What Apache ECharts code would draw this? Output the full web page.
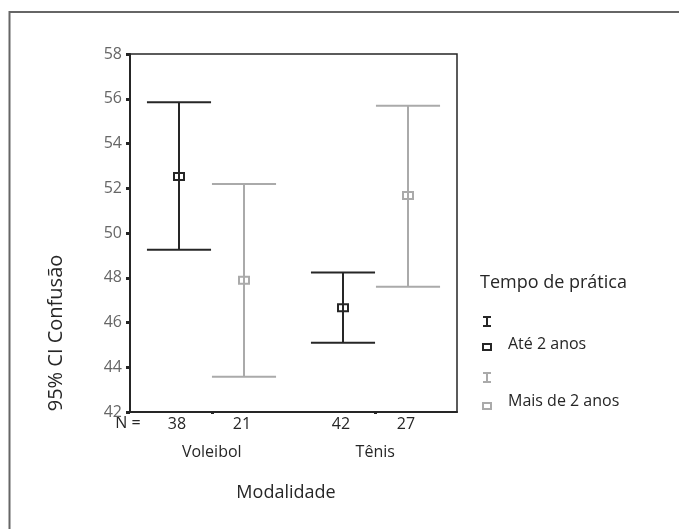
<!DOCTYPE html>
<html>
<head>
<meta charset="utf-8">
<script src="https://cdn.jsdelivr.net/npm/echarts@6/dist/echarts.min.js"></script>
<style>
html,body{margin:0;padding:0;background:#fff;}
#chart{width:679px;height:529px;}
</style>
</head>
<body>
<div id="chart"></div>
<script>
// ---- data ----
var categories = ['Voleibol', 'Tênis'];
var yTicks = [42, 44, 46, 48, 50, 52, 54, 56, 58];
var ateLow  = [49.25, 45.10];
var ateMean = [52.52, 46.66];
var ateHigh = [55.84, 48.23];
var ateN    = [38, 42];
var maisLow  = [43.58, 47.60];
var maisMean = [47.89, 51.68];
var maisHigh = [52.19, 55.69];
var maisN    = [21, 27];
var seriesNames = ['Até 2 anos', 'Mais de 2 anos'];
var legendTitle = 'Tempo de prática';
var xTitle = 'Modalidade';
var yTitle = '95% CI Confusão';

var FONT = '"Open Sans", "Noto Sans", sans-serif';
var BLACK = '#262626';
var GRAY = '#aaaaaa';

function buildData(low, mean, high, n) {
  return categories.map(function (c, i) { return [i, low[i], mean[i], high[i], n[i]]; });
}

function makeRender(offsetFrac, color) {
  return function (params, api) {
    var cat = api.value(0);
    var lo = api.value(1), mean = api.value(2), hi = api.value(3), n = api.value(4);
    var band = api.size([1, 0])[0];
    var pHi = api.coord([cat, hi]);
    var pLo = api.coord([cat, lo]);
    var pM = api.coord([cat, mean]);
    var base = api.coord([cat, yTicks[0]]);
    var x = Math.round(pHi[0] + band * offsetFrac);
    var half = band * 0.196;
    var st = { stroke: color, lineWidth: 2 };
    return {
      type: 'group',
      children: [
        { type: 'line', shape: { x1: x, y1: pHi[1], x2: x, y2: pLo[1] }, style: st },
        { type: 'line', shape: { x1: x - half, y1: pHi[1], x2: x + half, y2: pHi[1] }, style: st },
        { type: 'line', shape: { x1: x - half, y1: pLo[1], x2: x + half, y2: pLo[1] }, style: st },
        { type: 'rect', shape: { x: x - 5, y: pM[1] - 3.5, width: 10, height: 7 },
          style: { fill: 'none', stroke: color, lineWidth: 2 } },
        { type: 'text', x: x - 2, y: base[1] + 12,
          style: { text: String(n), fill: BLACK, font: '16px ' + FONT, align: 'center', verticalAlign: 'middle' } }
      ]
    };
  };
}

function legendIcon(cx, top, h, color) {
  return [
    { type: 'line', shape: { x1: cx, y1: top, x2: cx, y2: top + h }, style: { stroke: color, lineWidth: 2 } },
    { type: 'line', shape: { x1: cx - 4, y1: top, x2: cx + 4, y2: top }, style: { stroke: color, lineWidth: 2 } },
    { type: 'line', shape: { x1: cx - 4, y1: top + h, x2: cx + 4, y2: top + h }, style: { stroke: color, lineWidth: 2 } }
  ];
}

var chart = echarts.init(document.getElementById('chart'), null, { renderer: 'canvas' });

var graphics = [
  { type: 'rect', shape: { x: 9.5, y: 12, width: 800, height: 700 }, style: { fill: 'none', stroke: '#666', lineWidth: 2 }, silent: true },
  { type: 'text', x: 56, y: 333, rotation: Math.PI / 2,
    style: { text: yTitle, fill: BLACK, font: '20px ' + FONT, align: 'center', verticalAlign: 'middle' } },
  { type: 'text', x: 128, y: 423.5,
    style: { text: 'N =', fill: BLACK, font: '16px ' + FONT, align: 'center', verticalAlign: 'middle' } },
  { type: 'text', x: 480, y: 283,
    style: { text: legendTitle, fill: BLACK, font: '18px ' + FONT, align: 'left', verticalAlign: 'middle' } },
  { type: 'rect', shape: { x: 483, y: 344, width: 8, height: 6 }, style: { fill: 'none', stroke: BLACK, lineWidth: 2 } },
  { type: 'text', x: 508, y: 344,
    style: { text: seriesNames[0], fill: BLACK, font: '16px ' + FONT, align: 'left', verticalAlign: 'middle' } },
  { type: 'rect', shape: { x: 483, y: 403, width: 8, height: 6 }, style: { fill: 'none', stroke: GRAY, lineWidth: 2 } },
  { type: 'text', x: 508, y: 401,
    style: { text: seriesNames[1], fill: BLACK, font: '16px ' + FONT, align: 'left', verticalAlign: 'middle' } }
].concat(legendIcon(487, 317, 9, BLACK)).concat(legendIcon(487, 373, 9, GRAY));

chart.setOption({
  backgroundColor: '#fff',
  animation: false,
  grid: { left: 130, right: 222, top: 54, bottom: 117, show: true, borderColor: BLACK, borderWidth: 1.5, backgroundColor: 'transparent' },
  xAxis: {
    type: 'category',
    data: categories,
    axisLine: { show: true, lineStyle: { color: BLACK, width: 2 } },
    axisTick: { show: true, alignWithLabel: true, length: 2, lineStyle: { color: BLACK, width: 3 } },
    axisLabel: { color: BLACK, fontFamily: FONT, fontSize: 16, margin: 32 },
    splitLine: { show: false },
    name: xTitle,
    nameLocation: 'middle',
    nameGap: 72,
    nameTextStyle: { color: BLACK, fontFamily: FONT, fontSize: 18, padding: [0, 15, 0, 0] }
  },
  yAxis: {
    type: 'value',
    min: yTicks[0],
    max: yTicks[yTicks.length - 1],
    interval: 2,
    axisLine: { show: true, lineStyle: { color: BLACK, width: 2 } },
    axisTick: { show: true, length: 4, lineStyle: { color: BLACK, width: 3 } },
    axisLabel: { color: '#666', fontFamily: FONT, fontSize: 16, margin: 8 },
    splitLine: { show: false }
  },
  series: [
    { type: 'custom', name: seriesNames[0], renderItem: makeRender(-0.2, BLACK), data: buildData(ateLow, ateMean, ateHigh, ateN), clip: false },
    { type: 'custom', name: seriesNames[1], renderItem: makeRender(0.2, GRAY), data: buildData(maisLow, maisMean, maisHigh, maisN), clip: false }
  ],
  graphic: graphics
});
</script>
</body>
</html>
